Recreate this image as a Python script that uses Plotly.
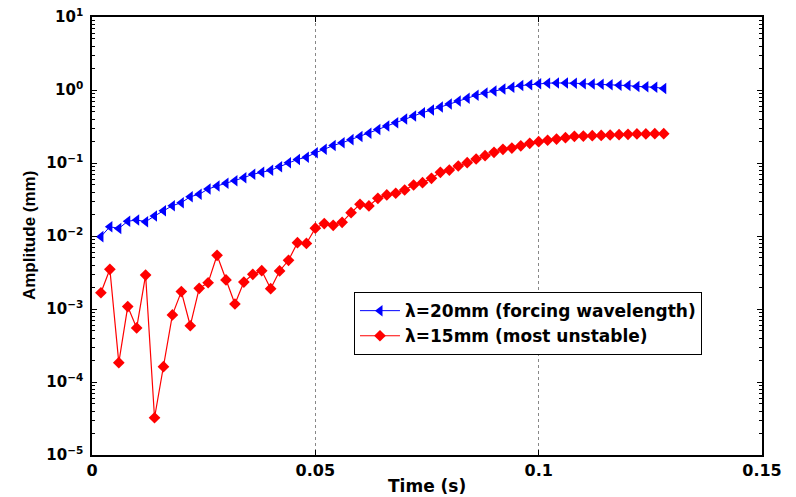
import plotly.graph_objects as go

time_s = [round(0.002 * (i + 1), 3) for i in range(64)]

amp_20mm = [
    9.8e-3, 0.0134, 0.0127, 0.0159, 0.0166, 0.0157, 0.0188, 0.0222, 0.026, 0.0286,
    0.0345, 0.0373, 0.044, 0.0484, 0.0527, 0.0573, 0.063, 0.070, 0.0746, 0.0794,
    0.089, 0.101, 0.112, 0.120, 0.138, 0.154, 0.174, 0.189, 0.209, 0.230,
    0.255, 0.287, 0.321, 0.356, 0.400, 0.440, 0.489, 0.532, 0.585, 0.643,
    0.707, 0.769, 0.846, 0.910, 0.969, 1.03, 1.09, 1.15, 1.18, 1.22,
    1.24, 1.25, 1.25, 1.24, 1.22, 1.21, 1.20, 1.18, 1.16, 1.15,
    1.12, 1.11, 1.09, 1.05,
]

amp_15mm = [
    1.67e-3, 3.50e-3, 1.84e-4, 1.08e-3, 5.5e-4, 2.92e-3, 3.24e-5, 1.62e-4, 8.3e-4, 1.73e-3,
    5.9e-4, 1.92e-3, 2.29e-3, 5.44e-3, 2.50e-3, 1.17e-3, 2.34e-3, 2.99e-3, 3.35e-3, 1.90e-3,
    3.32e-3, 4.65e-3, 8.1e-3, 7.9e-3, 0.0128, 0.0148, 0.0140, 0.0154, 0.0209, 0.0272,
    0.0258, 0.0328, 0.0365, 0.0385, 0.0427, 0.050, 0.0537, 0.0617, 0.0746, 0.080,
    0.091, 0.101, 0.1135, 0.126, 0.140, 0.154, 0.160, 0.172, 0.186, 0.196,
    0.205, 0.213, 0.222, 0.232, 0.234, 0.237, 0.239, 0.242, 0.244, 0.247,
    0.250, 0.250, 0.252, 0.252,
]

series_names = ["\u03bb=20mm (forcing wavelength)", "\u03bb=15mm (most unstable)"]

x_tickvals = [0, 0.05, 0.1, 0.15]
x_ticktext = ["0", "0.05", "0.1", "0.15"]
y_exponents = [-5, -4, -3, -2, -1, 0, 1]

y_tickvals = [10.0 ** e for e in y_exponents]
y_ticktext = ["<b>10<sup>%s</sup></b>" % (str(e).replace("-", "\u2212")) for e in y_exponents]
y_minor = [k * 10.0 ** e for e in range(-5, 1) for k in range(2, 10)]

HFONT = "DejaVu Sans"

fig = go.Figure()
fig.add_trace(go.Scatter(
    x=time_s, y=amp_20mm, mode="lines+markers", name=series_names[0],
    line=dict(color="#0000ff", width=1),
    marker=dict(symbol="triangle-left", size=10, color="#0000ff"),
))
fig.add_trace(go.Scatter(
    x=time_s, y=amp_15mm, mode="lines+markers", name=series_names[1],
    line=dict(color="#ff0000", width=1.2),
    marker=dict(symbol="diamond", size=9, color="#ff0000"),
))

fig.update_layout(
    width=796, height=497,
    margin=dict(l=92, r=34, t=17, b=42, autoexpand=False),
    paper_bgcolor="white", plot_bgcolor="white",
    font=dict(family=HFONT, color="black"),
    legend=dict(
        x=0.391, y=0.300, xanchor="left", yanchor="middle",
        bordercolor="black", borderwidth=1, bgcolor="white",
        font=dict(family=HFONT, size=17, weight="bold", color="black"),
        itemwidth=40, tracegroupgap=0,
    ),
    xaxis=dict(
        range=[0, 0.15], tickmode="array", tickvals=x_tickvals, ticktext=x_ticktext,
        ticks="inside", ticklen=5, tickcolor="black", tickwidth=1,
        showline=True, linecolor="black", linewidth=1.5, mirror="allticks",
        showgrid=True, gridcolor="#888888", griddash="dot", gridwidth=1,
        zeroline=False, automargin=False,
        tickfont=dict(family=HFONT, size=16, weight="bold", color="black"),
    ),
    yaxis=dict(
        type="log", range=[-5, 1], tickmode="array", tickvals=y_tickvals, ticktext=y_ticktext,
        ticks="inside", ticklen=5, tickcolor="black", tickwidth=1,
        showline=True, linecolor="black", linewidth=1.5, mirror="allticks",
        showgrid=False, zeroline=False, automargin=False,
        minor=dict(tickmode="array", tickvals=y_minor, ticks="inside", ticklen=3,
                   tickcolor="black", tickwidth=1, showgrid=False),
        tickfont=dict(family=HFONT, size=15, color="black"),
        ticklabelstandoff=4,
    ),
    showlegend=True,
)

fig.add_annotation(
    text="<b>Time (s)</b>", xref="paper", yref="paper", x=0.5, y=-0.071,
    xanchor="center", yanchor="middle", showarrow=False,
    font=dict(family=HFONT, size=17, color="black"),
)
fig.add_annotation(
    text="<b>Amplitude (mm)</b>", xref="paper", yref="paper", x=-0.094, y=0.5,
    xanchor="center", yanchor="middle", showarrow=False, textangle=-90,
    font=dict(family="Liberation Sans", size=17, color="black"),
)

fig.write_html(
    "out.html",
    config={"displayModeBar": False},
    post_script="document.body.style.margin='0';document.body.style.padding='0';",
)
